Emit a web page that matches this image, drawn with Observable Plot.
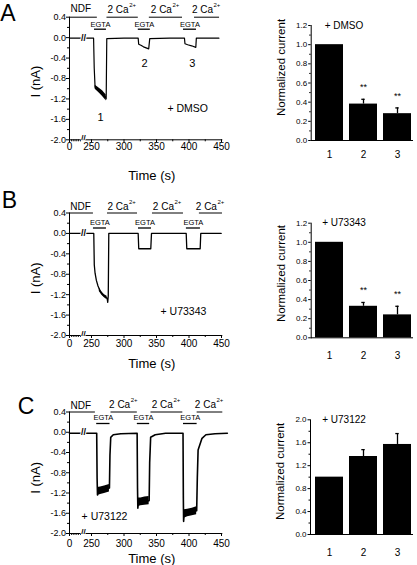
<!DOCTYPE html>
<html><head><meta charset="utf-8">
<script src="https://cdn.jsdelivr.net/npm/d3@7"></script>
<script src="https://cdn.jsdelivr.net/npm/@observablehq/plot@0.6"></script>
<style>
body{margin:0;background:#fff;}
#fig{position:relative;width:417px;height:565px;overflow:hidden;background:#fff;}
#fig > svg{position:absolute;left:0;top:0;}
#fig svg, #fig svg text{font-family:'Liberation Sans',Arial,Helvetica,sans-serif !important;}
</style></head><body><div id="fig"></div>
<script>
// ---------- shared axis values ----------
const xTicks = [0, 250, 300, 350, 400, 450];
const xMinor = [25, 50, 75, 100, 125, 275, 325, 375, 425];
const yTicksTrace = [0.4, 0, -0.4, -0.8, -1.2, -1.6, -2.0];
const yMinorTrace = [0.2, -0.2, -0.6, -1.0, -1.4, -1.8];
const breakAt = 160;
const barCats = ["1", "2", "3"];
const yTicksBarAB = [0, 0.2, 0.4, 0.6, 0.8, 1.0, 1.2];
const yMinorBarAB = [0.1, 0.3, 0.5, 0.7, 0.9, 1.1];
const yTicksBarC = [0, 0.4, 0.8, 1.2, 1.6, 2.0];
const yMinorBarC = [0.2, 0.6, 1.0, 1.4, 1.8];

// ---------- Panel A: trace (time s, current nA) ----------
const traceA = [[0,-0.01],[253.2,-0.01],[254.2,-0.6],[255.5,-0.97],[258,-0.99],[261,-1.02],[264,-1.06],[267,-1.1],[270,-1.14],[272,-1.18],[272.6,-1.2],[273.5,-0.02],[300,-0.01],[321.8,-0.01],[322.6,-0.13],[326,-0.15],[330,-0.18],[334,-0.2],[338,-0.22],[339.6,-0.02],[370,-0.01],[393,-0.01],[393.8,-0.12],[398,-0.14],[404,-0.16],[410.5,-0.19],[411.3,-0.01],[446,-0.01]];
const bandA = [[[255.7,-0.93,-1.01],[259,-0.96,-1.05],[263,-1.0,-1.1],[267,-1.04,-1.15],[271,-1.1,-1.21],[272.6,-1.12,-1.24]]];
const ndfA = [[0, 259]];
const egtaA = [[254.6, 273], [322, 340.5], [391.5, 411.5]];
const caA = [[273.8, 322], [339, 390], [408.5, 447]];
const peaksA = [[264, -1.57, "1"], [331.5, -0.51, "2"], [405, -0.51, "3"]];

// ---------- Panel B: trace ----------
const traceB = [[0,0],[253.5,0],[254.3,-0.62],[255.5,-0.78],[257.5,-0.92],[260,-1.03],[263,-1.12],[266,-1.18],[269,-1.22],[272,-1.25],[274,-1.27],[275,-1.35],[275.8,-1.22],[276.6,0],[321.8,0],[322.7,-0.3],[341.2,-0.3],[342.3,0],[395.7,0],[396.6,-0.3],[417.2,-0.3],[418.1,0],[449.5,0]];
const bandB = [[[262,-1.07,-1.14],[266,-1.15,-1.21],[270,-1.2,-1.26],[274,-1.23,-1.3]]];
const ndfB = [[0, 253]];
const egtaB = [[253, 273], [322.3, 342.3], [396, 417.6]];
const caB = [[274.6, 320.8], [343.8, 391.5], [416, 451.5]];
const peaksB = [];

// ---------- Panel C: trace ----------
const traceC = [[0,-0.02],[258,-0.02],[258.6,-0.9],[259.2,-1.24],[260,-1.17],[268,-1.14],[277.6,-1.1],[278.4,-0.45],[279.6,-0.1],[283.5,-0.05],[295,-0.03],[320.2,-0.02],[320.8,-1.1],[321.3,-1.5],[322.2,-1.38],[330,-1.37],[338.7,-1.35],[339.5,-0.6],[341,-0.1],[348,-0.05],[364,-0.02],[390.8,-0.02],[391.3,-1.3],[391.7,-1.76],[392.6,-1.6],[402,-1.58],[411.8,-1.55],[412.8,-0.9],[414,-0.35],[420,-0.12],[426,-0.05],[440,-0.03],[459,-0.02]];
const bandC = [
  [[259.3,-1.09,-1.25],[264,-1.08,-1.23],[270,-1.06,-1.21],[277.6,-1.03,-1.18]],
  [[321.5,-1.3,-1.47],[326,-1.3,-1.45],[332,-1.28,-1.44],[338.7,-1.27,-1.43]],
  [[392.6,-1.53,-1.7],[398,-1.52,-1.67],[405,-1.5,-1.65],[411.8,-1.47,-1.63]]
];
const ndfC = [[0, 256]];
const egtaC = [[258, 278.5], [320.5, 339.5], [391.5, 412.5]];
const caC = [[280, 320.5], [341.5, 390.5], [412.5, 452]];
const peaksC = [];

// ---------- Bar charts (normalized current, mean and SEM) ----------
const meanA = [1.0, 0.38, 0.28], errA = [0, 0.05, 0.06], sigA = ["", "**", "**"];
const meanB = [1.0, 0.33, 0.24], errB = [0, 0.04, 0.09], sigB = ["", "**", "**"];
const meanC = [1.0, 1.36, 1.57], errC = [0, 0.12, 0.19], sigC = ["", "", ""];

// ---------- drawing ----------
const W = 417, H = 565;
const STYLE = "background:transparent;overflow:visible;color:black;";
const fig = document.getElementById("fig");

function tracePanel(p) {
  const line = p.trace.map(([t, i]) => ({t, i}));
  const band = p.band.flatMap((seg, k) => seg.map(([t, lo, hi]) => ({k, t, lo, hi})));
  const seg = arr => arr.map(([a, b]) => ({a, b, m: (a + b) / 2}));
  const ndf = seg(p.ndf), egta = seg(p.egta), ca = seg(p.ca);
  return Plot.plot({
    width: W, height: H,
    marginLeft: 69, marginRight: W - 221, marginTop: p.top, marginBottom: H - p.bottom,
    style: STYLE,
    x: {type: "linear", domain: [0, 250, 450], range: [69, 91, 221]},
    y: {domain: [-2, 0.4]},
    marks: [
      Plot.ruleX([0], {y1: -2, y2: 0.4, strokeWidth: 1}),
      Plot.ruleY([-2], {x1: 0, x2: 452, strokeWidth: 1}),
      Plot.axisY(yTicksTrace, {tickSize: 3, tickPadding: 0.5, tickFormat: d => d.toFixed(1), fontSize: 9, label: null}),
      Plot.axisY(yMinorTrace, {tickSize: 2, tickFormat: () => "", label: null}),
      Plot.axisX(xTicks, {tickSize: 3, tickPadding: p.xpad, fontSize: 10, label: null}),
      Plot.axisX(xMinor, {tickSize: 2, tickFormat: () => "", label: null}),
      Plot.areaY(band, {x: "t", y1: "lo", y2: "hi", z: "k", fill: "black"}),
      Plot.line(line, {x: "t", y: "i", stroke: "black", strokeWidth: p.sw}),
      Plot.text([breakAt], {x: d => d, y: () => 0, text: () => "//", fontSize: 9, fontWeight: "bold", fill: "black", stroke: "white", strokeWidth: 2}),
      Plot.text([breakAt], {x: d => d, y: () => -2, text: () => "//", dy: -2, fontSize: 8, fontWeight: "bold", fill: "black", stroke: "white", strokeWidth: 1.5}),
      Plot.ruleY(ndf, {x1: "a", x2: "b", y: 0.4, strokeWidth: 1}),
      Plot.ruleY(ca, {x1: "a", x2: "b", y: 0.4, strokeWidth: 1}),
      Plot.ruleY(egta, {x1: "a", x2: "b", y: 0.4, dy: p.egtaBarDy, strokeWidth: 1.3}),
      Plot.text(ndf, {x: "m", y: 0.4, text: () => "NDF", dy: p.ndfDy, fontSize: 10}),
      Plot.text(egta, {x: "m", y: 0.4, text: () => "EGTA", dy: p.egtaDy, fontSize: 7.5}),
      Plot.text(ca, {x: "m", y: 0.4, text: () => "2 Ca", textAnchor: "end", dx: 6, dy: p.caDy, fontSize: 10}),
      Plot.text(ca, {x: "m", y: 0.4, text: () => "2+", textAnchor: "start", dx: 6.5, dy: p.caDy - 5, fontSize: 6}),
      Plot.text(p.peaks, {x: d => d[0], y: d => d[1], text: d => d[2], fontSize: 11}),
      Plot.text([p.drug], {x: () => p.drugAt[0], y: () => p.drugAt[1], fontSize: 10.5}),
      Plot.text(["I (nA)"], {frameAnchor: "left", y: () => p.ylabY, dx: -34, rotate: -90, textAnchor: "middle", lineAnchor: "middle", fontSize: 13}),
      Plot.text(["Time (s)"], {frameAnchor: "bottom", x: () => 342.7, dy: p.xlabDy, textAnchor: "middle", lineAnchor: "middle", fontSize: 13}),
      Plot.text([p.letter], {frameAnchor: "top-left", dx: p.letterDx, dy: p.letterDy, textAnchor: "middle", lineAnchor: "middle", fontSize: 23})
    ]
  });
}

function barPanel(p) {
  const rows = barCats.map((c, i) => ({c, m: p.mean[i], e: p.err[i], s: p.sig[i]}));
  const withErr = rows.filter(d => d.e > 0);
  return Plot.plot({
    width: W, height: H,
    marginLeft: p.axisX, marginRight: W - 412, marginTop: p.top, marginBottom: H - p.bottom,
    style: STYLE,
    x: {type: "band", domain: barCats, range: [314.3, 411.7], paddingInner: 0.163, paddingOuter: 0},
    y: {domain: [0, p.yMax]},
    marks: [
      Plot.barY(rows, {x: "c", y: "m", fill: "black"}),
      Plot.ruleX(withErr, {x: "c", y1: "m", y2: d => d.m + d.e, strokeWidth: 1.3}),
      Plot.tickY(withErr, {x: "c", y: d => d.m + d.e, insetLeft: 12.3, insetRight: 12.3, strokeWidth: 1.3}),
      Plot.text(rows, {x: "c", y: d => d.m + d.e, text: "s", dy: -12, fontSize: 9}),
      Plot.frame({anchor: "left"}),
      Plot.frame({anchor: "bottom"}),
      Plot.axisY(p.yTicks, {tickSize: 2.5, tickPadding: 1.5, tickFormat: d => d.toFixed(1), fontSize: 8, label: null}),
      Plot.axisY(p.yMinor, {tickSize: 1.5, tickFormat: () => "", label: null}),
      Plot.axisX({tickSize: 0, tickPadding: p.xpad, fontSize: 10, label: null}),
      Plot.text([p.drug], {x: () => barCats[0], y: () => p.yMax, dx: 14.5, fontSize: 10}),
      Plot.text(["Normalized current"], {frameAnchor: "left", y: () => p.ylabY, dx: -30, rotate: -90, textAnchor: "middle", lineAnchor: "middle", fontSize: 11.5})
    ]
  });
}

fig.append(tracePanel({trace: traceA, band: bandA, ndf: ndfA, egta: egtaA, ca: caA, peaks: peaksA,
  top: 16.7, bottom: 139.3, sw: 1.2, xpad: 0.5, ndfDy: -8, egtaDy: 7, egtaBarDy: 12, caDy: -7,
  drug: "+ DMSO", drugAt: [398, -1.39], ylabY: -0.86, xlabDy: 35.7, letter: "A", letterDx: -61.5, letterDy: -3.4}));
fig.append(tracePanel({trace: traceB, band: bandB, ndf: ndfB, egta: egtaB, ca: caB, peaks: peaksB,
  top: 212.5, bottom: 335, sw: 1.3, xpad: 1.5, ndfDy: -6.5, egtaDy: 10, egtaBarDy: 15, caDy: -6,
  drug: "+ U73343", drugAt: [391.5, -1.54], ylabY: -0.88, xlabDy: 28.5, letter: "B", letterDx: -60, letterDy: -12}));
fig.append(tracePanel({trace: traceC, band: bandC, ndf: ndfC, egta: egtaC, ca: caC, peaks: peaksC,
  top: 411.5, bottom: 533, sw: 1.6, xpad: 3.5, ndfDy: -6.5, egtaDy: 5.5, egtaBarDy: 11.5, caDy: -7,
  drug: "+ U73122", drugAt: [270, -1.665], ylabY: -0.9, xlabDy: 25, letter: "C", letterDx: -43.5, letterDy: -5.8}));

fig.append(barPanel({mean: meanA, err: errA, sig: sigA, yMax: 1.2, yTicks: yTicksBarAB, yMinor: yMinorBarAB,
  axisX: 310.7, top: 25, bottom: 140, xpad: 10, drug: "+ DMSO", ylabY: 0.762}));
fig.append(barPanel({mean: meanB, err: errB, sig: sigB, yMax: 1.2, yTicks: yTicksBarAB, yMinor: yMinorBarAB,
  axisX: 310.7, top: 222.7, bottom: 337.3, xpad: 14, drug: "+ U73343", ylabY: 0.673}));
fig.append(barPanel({mean: meanC, err: errC, sig: sigC, yMax: 2.0, yTicks: yTicksBarC, yMinor: yMinorBarC,
  axisX: 310, top: 419.3, bottom: 534, xpad: 14, drug: "+ U73122", ylabY: 1.10}));
</script></body></html>
